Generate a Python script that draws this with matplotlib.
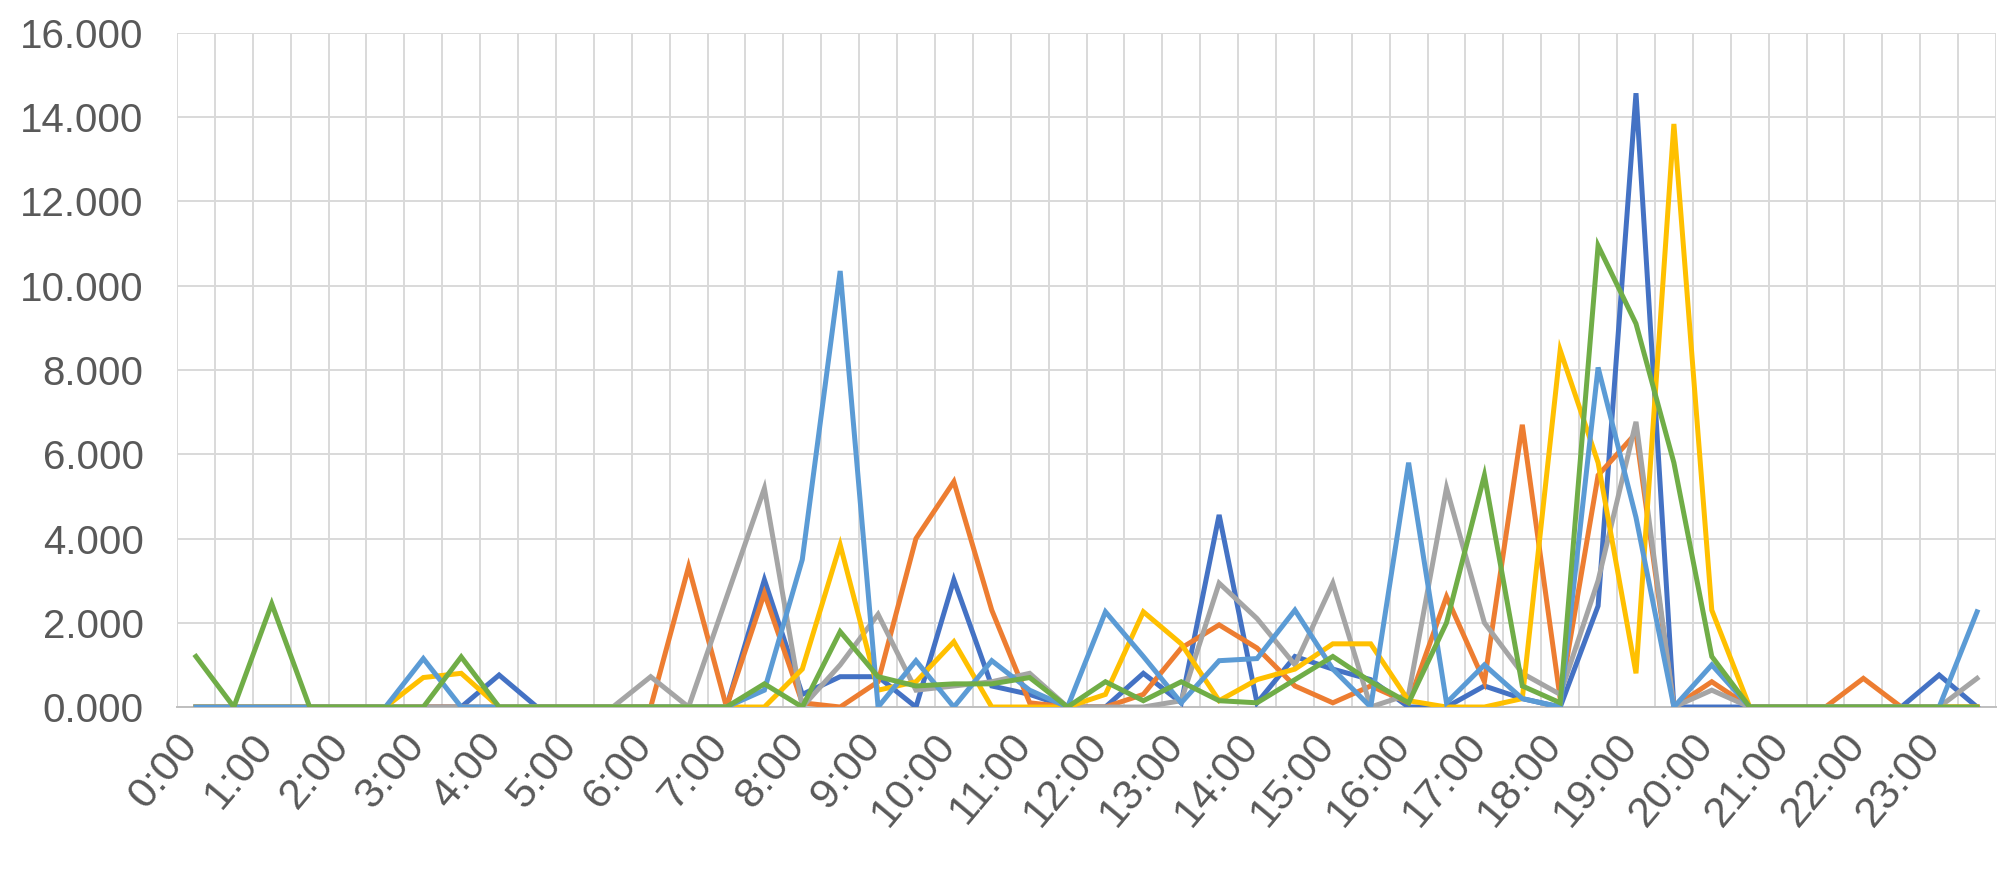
import matplotlib.pyplot as plt
import matplotlib.transforms as mtransforms
import numpy as np

plt.rcParams['font.family'] = ['Liberation Sans', 'DejaVu Sans']

# half-hour categories 0:00 .. 23:30
times = [f"{h}:{m:02d}" for h in range(24) for m in (0, 30)]

# values in thousands, one per half hour
blue = [0, 0, 0, 0, 0, 0, 0, 0, 0.76, 0, 0, 0, 0, 0, 0, 3.02,
        0.3, 0.72, 0.72, 0, 3.02, 0.5, 0.3, 0, 0, 0.8, 0.1, 4.56, 0.1, 1.2, 0.9, 0.65,
        0, 0, 0.5, 0.2, 0, 2.4, 14.57, 0, 0, 0, 0, 0, 0, 0, 0.76, 0]
orange = [0, 0, 0, 0, 0, 0, 0, 0, 0, 0, 0, 0, 0, 3.33, 0, 2.7,
          0.1, 0, 0.6, 4.0, 5.35, 2.3, 0.1, 0, 0, 0.3, 1.4, 1.95, 1.4, 0.5, 0.1, 0.5,
          0.1, 2.62, 0.6, 6.7, 0.2, 5.5, 6.5, 0, 0.6, 0, 0, 0, 0.68, 0, 0, 0]
gray = [0, 0, 0, 0, 0, 0, 0, 0, 0, 0, 0, 0, 0.72, 0, 2.6, 5.19,
        0, 1.0, 2.2, 0.4, 0.5, 0.6, 0.8, 0, 0, 0, 0.15, 2.94, 2.1, 1.0, 2.94, 0,
        0.3, 5.2, 2.0, 0.8, 0.3, 3.0, 6.77, 0, 0.4, 0, 0, 0, 0, 0, 0, 0.68]
yellow = [0, 0, 0, 0, 0, 0, 0.7, 0.8, 0, 0, 0, 0, 0, 0, 0, 0,
          0.9, 3.85, 0.4, 0.6, 1.55, 0, 0, 0, 0.3, 2.26, 1.5, 0.15, 0.65, 0.9, 1.5, 1.5,
          0.15, 0, 0, 0.2, 8.47, 5.8, 0.8, 13.84, 2.3, 0, 0, 0, 0, 0, 0, 0]
lightblue = [0, 0, 0, 0, 0, 0, 1.15, 0, 0, 0, 0, 0, 0, 0, 0, 0.4,
             3.5, 10.35, 0, 1.1, 0, 1.1, 0.4, 0, 2.26, 1.2, 0.1, 1.1, 1.15, 2.3, 0.9, 0,
             5.8, 0.1, 1.0, 0.2, 0, 8.06, 4.5, 0, 1.0, 0, 0, 0, 0, 0, 0, 2.26]
green = [1.2, 0, 2.45, 0, 0, 0, 0, 1.19, 0, 0, 0, 0, 0, 0, 0, 0.55,
         0, 1.79, 0.72, 0.5, 0.55, 0.55, 0.7, 0, 0.6, 0.15, 0.6, 0.15, 0.1, 0.65, 1.2, 0.6,
         0.1, 2.0, 5.5, 0.5, 0.1, 10.95, 9.1, 5.8, 1.2, 0, 0, 0, 0, 0, 0, 0]

series = [blue, orange, gray, yellow, lightblue, green]
colors = ['#4472C4', '#ED7D31', '#A5A5A5', '#FFC000', '#5B9BD5', '#70AD47']

fig = plt.figure(figsize=(20, 8.86), dpi=100)
ax = fig.add_axes([0.0885, 0.202, 0.9095, 0.7608])

x = np.arange(len(times))
for vals, c in zip(series, colors):
    ax.plot(x, vals, color=c, lw=3.6, solid_joinstyle='miter', zorder=3)

ax.set_xlim(-0.5, len(times) - 0.5)
ax.set_ylim(0, 16)

# labels every hour, gridlines between categories
ax.set_xticks(x[::2])
ax.set_xticklabels(times[::2], rotation=50, ha='right', va='bottom',
                   rotation_mode='anchor', fontsize=31, color='#595959')
ax.set_xticks(np.arange(-0.5, len(times), 1), minor=True)
ax.set_yticks(np.arange(0, 17, 2))
ax.set_yticklabels([f"{v:.3f}" for v in np.arange(0, 17, 2)], fontsize=29, color='#595959')

ax.tick_params(axis='both', which='both', length=0)
ax.tick_params(axis='y', pad=24)
ax.tick_params(axis='x', pad=32)
shift = mtransforms.ScaledTranslation(0.1, 0, fig.dpi_scale_trans)
for lab in ax.get_xticklabels():
    lab.set_transform(lab.get_transform() + shift)

ax.grid(False)
ax.grid(True, axis='x', which='minor', color='#D9D9D9', lw=1.4)
ax.grid(True, axis='y', which='major', color='#D9D9D9', lw=1.4)
for s in ['top', 'right', 'left']:
    ax.spines[s].set_visible(False)
ax.spines['bottom'].set_color('#BFBFBF')
ax.spines['bottom'].set_linewidth(1.4)

plt.savefig('out.png', dpi=100)
plt.close()
